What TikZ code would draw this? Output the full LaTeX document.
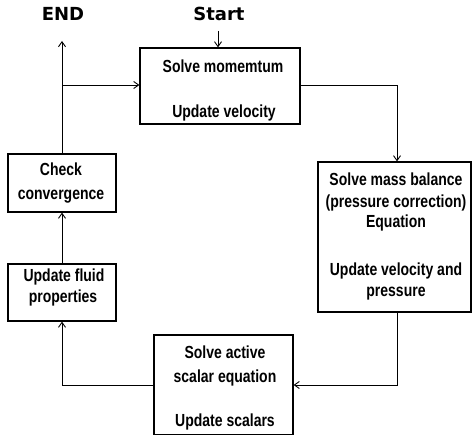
\documentclass[tikz,border=0pt]{standalone}
\usepackage{fontspec}
\setmainfont{Liberation Sans}[FakeStretch=0.80]
\newfontfamily\headfont{DejaVu Sans}
\usetikzlibrary{arrows.meta}
\begin{document}
\begin{tikzpicture}[x=1pt,y=-1pt,
  line width=0.9pt,
  >={Straight Barb[length=5pt,width=7pt]},
  stepbox/.style={draw, line width=1.2pt, inner sep=0pt},
  steptext/.style={anchor=base, inner sep=0pt,
    font=\bfseries\fontsize{17.5}{21}\selectfont},
  headlabel/.style={anchor=base, inner sep=0pt,
    font=\headfont\bfseries\fontsize{18}{20}\selectfont}]
\useasboundingbox (0,0) rectangle (474,435);

% process boxes
\node[stepbox, minimum width=160pt, minimum height=76pt] (mom) at (220,86) {};
\node[stepbox, minimum width=153pt, minimum height=150pt] (mass) at (394.5,237) {};
\node[stepbox, minimum width=139pt, minimum height=100pt] (scal) at (223.5,385) {};
\node[stepbox, minimum width=108pt, minimum height=57pt] (fluid) at (62,292.5) {};
\node[stepbox, minimum width=108pt, minimum height=58pt] (conv) at (62,183) {};

% box texts, one node per line, set on their baselines
\node[steptext] (mom1) at (223,72.7) {Solve momemtum};
\node[steptext] (mom2) at (224,118) {Update velocity};
\node[steptext] (mass1) at (396,186) {Solve mass balance};
\node[steptext] (mass2) at (396,207.5) {(pressure correction)};
\node[steptext] (mass3) at (396,228) {Equation};
\node[steptext] (mass4) at (396,276) {Update velocity and};
\node[steptext] (mass5) at (396,296.5) {pressure};
\node[steptext] (scal1) at (225,359) {Solve active};
\node[steptext] (scal2) at (225,383) {scalar equation};
\node[steptext] (scal3) at (225,427) {Update scalars};
\node[steptext] (fluid1) at (64,282) {Update fluid};
\node[steptext] (fluid2) at (63,303) {properties};
\node[steptext] (conv1) at (61,176) {Check};
\node[steptext] (conv2) at (61,200) {convergence};

% labels
\node[headlabel] (start) at (219,21) {Start};
\node[headlabel] (end) at (63,21) {END};

% connector corners
\coordinate (startin) at (218,31);
\coordinate (endtip) at (62,41);
\coordinate (branch) at (62,85);
\coordinate (c1) at (397,85);
\coordinate (c2) at (397,385);
\coordinate (c3) at (62,385);

% connectors
\draw[->] (startin) -- (mom.north -| startin);
\draw (mom.east |- c1) -- (c1) [->] -- (mass.north -| c1);
\draw[->] (mass.south -| c2) -- (c2) -- (scal.east |- c2);
\draw[->] (scal.west |- c3) -- (c3) -- (fluid.south);
\draw[->] (fluid.north) -- (conv.south);
\draw[->] (conv.north) -- (endtip);
\draw[->] (branch) -- (mom.west |- branch);
\end{tikzpicture}
\end{document}
